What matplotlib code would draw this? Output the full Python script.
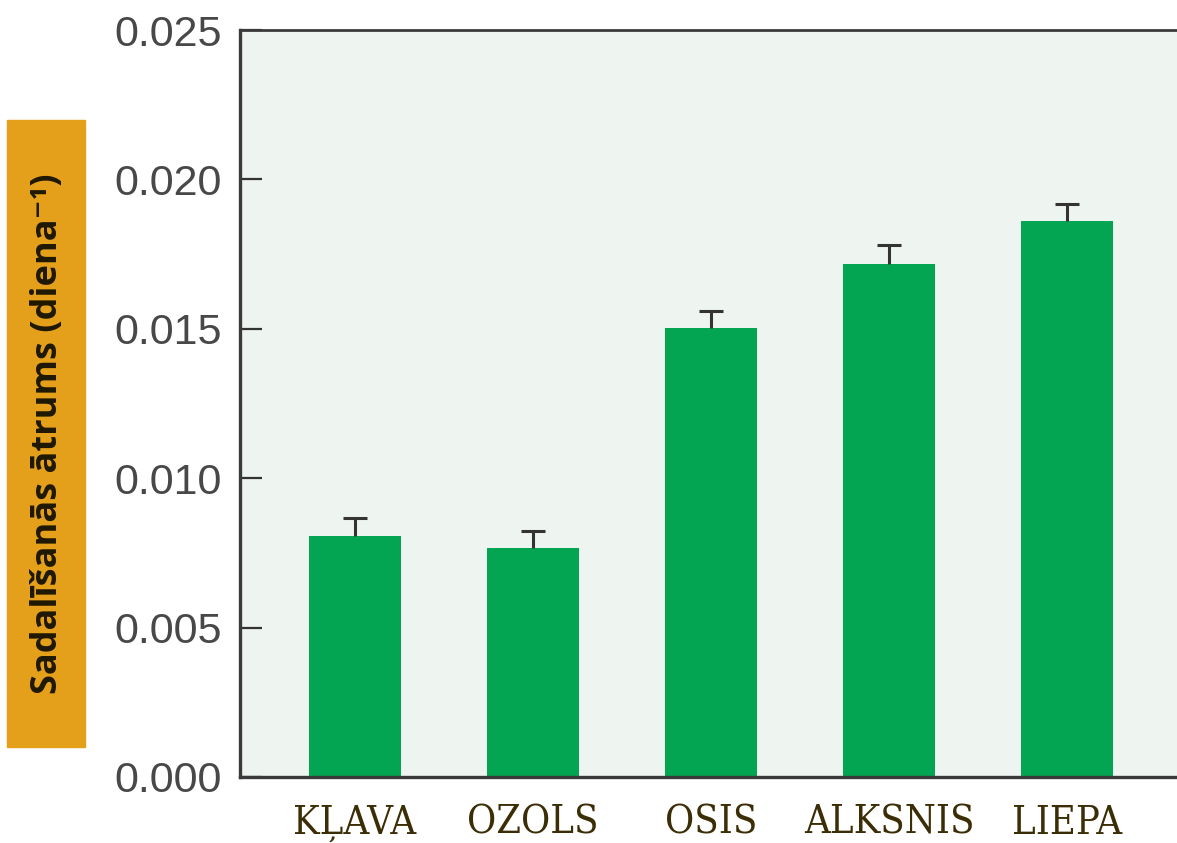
import matplotlib
matplotlib.use('Agg')
import matplotlib.pyplot as plt
from matplotlib.patches import Rectangle

# dati
koki = ['KĻAVA', 'OZOLS', 'OSIS', 'ALKSNIS', 'LIEPA']
atrums = [0.00807, 0.00766, 0.01503, 0.01717, 0.01861]
kluda = [0.00060, 0.00057, 0.00057, 0.00063, 0.00057]
y_ticks = [0.000, 0.005, 0.010, 0.015, 0.020, 0.025]
y_label = 'Sadalīšanās ātrums (diena⁻¹)'

W, H = 1177, 843
fig = plt.figure(figsize=(W / 100, H / 100), dpi=100)

# asis iziet ārpus attēla labajā pusē (kā oriģinālā)
x0, x1 = -0.646, 4.70
left, top, bottom = 240, 30, 777
width_px = (x1 - x0) * 178
ax = fig.add_axes([left / W, 1 - bottom / H, width_px / W, (bottom - top) / H])
ax.set_facecolor('#eef4ef')

x = list(range(len(koki)))
ax.bar(x, atrums, width=0.52, color='#03a552', zorder=2)
# tikai augšējā kļūdas josla
eb = ax.errorbar(x, atrums, yerr=[[0] * len(kluda), kluda], fmt='none',
                 ecolor='#333333', elinewidth=2.2, capthick=2.2, capsize=8.5,
                 zorder=3)
eb.lines[1][0].set_visible(False)

ax.set_xlim(x0, x1)
ax.set_ylim(0, 0.025)
ax.set_yticks(y_ticks)
ax.set_yticklabels([f'{v:.3f}' for v in y_ticks], fontsize=31,
                   family='Liberation Sans', color='#484848')
ax.tick_params(axis='y', direction='in', length=16, width=1.6,
               color='#333333', pad=13)
ax.set_xticks(x)
ax.set_xticklabels(koki, fontsize=28.5, family='DejaVu Serif',
                   fontstretch='condensed', color='#3b2d05')
ax.tick_params(axis='x', length=0, pad=20)

for s in ['left', 'bottom']:
    ax.spines[s].set_linewidth(2.4)
    ax.spines[s].set_color('#3a3a3a')
ax.spines['top'].set_linewidth(2.0)
ax.spines['top'].set_color('#3a3a3a')
ax.spines['right'].set_visible(False)

# oranžā kaste ar y ass nosaukumu
fig.patches.append(Rectangle((7 / W, 1 - 747 / H), 78 / W, 627 / H,
                             transform=fig.transFigure, color='#e5a01b', zorder=0))
fig.text(48 / W, 1 - 434 / H, y_label, rotation=90, ha='center', va='center',
         fontsize=26, fontweight='bold', family=['Open Sans', 'DejaVu Sans'],
         color='#1e1800')

fig.savefig('out.png', dpi=100)
